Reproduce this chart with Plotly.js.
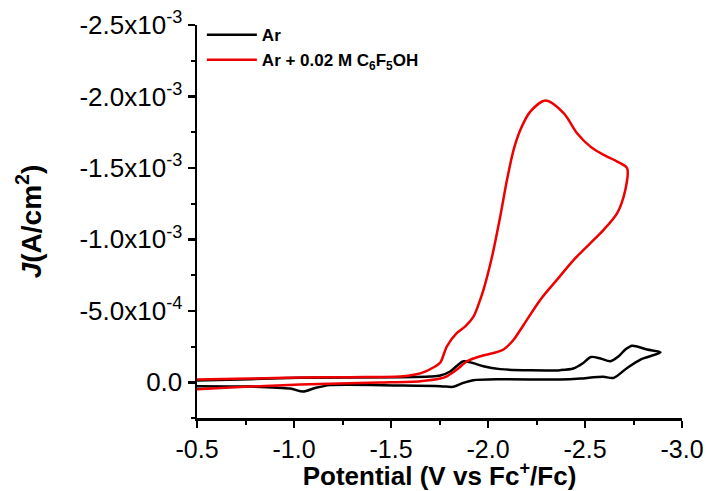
<!DOCTYPE html>
<html>
<head>
<meta charset="utf-8">
<script src="https://cdn.plot.ly/plotly-3.0.1.min.js"></script>
<style>html,body{margin:0;padding:0;background:#fff;}#chart{width:709px;height:491px;}</style>
</head>
<body>
<div id="chart"></div>
<script>
// Current density values are in units of 1e-3 A/cm^2 (negative = cathodic)
const UNIT = 1e-3;

// Ar (black) cyclic voltammogram: forward (cathodic) sweep then return sweep
const arPotential = [
  -0.5, -0.773, -1.031, -1.547, -1.702, -1.754, -1.805, -1.842, -1.873, -1.924, -1.976,
  -2.063, -2.218, -2.373, -2.440, -2.487, -2.531, -2.580, -2.631, -2.672, -2.708, -2.743,
  -2.820, -2.889,
  -2.786, -2.717, -2.648, -2.595, -2.543, -2.476, -2.373, -2.063, -1.924, -1.873, -1.821,
  -1.754, -1.547, -1.186, -1.109, -1.047, -0.980, -0.773, -0.5
];
const arCurrent = [
  -0.012, -0.022, -0.031, -0.035, -0.040, -0.047, -0.075, -0.117, -0.147, -0.134, -0.112,
  -0.092, -0.084, -0.085, -0.096, -0.131, -0.177, -0.166, -0.147, -0.180, -0.229, -0.256,
  -0.229, -0.210,
  -0.159, -0.100, -0.031, -0.038, -0.035, -0.026, -0.019, -0.021, -0.014, 0.004, 0.032,
  0.027, 0.023, 0.020, 0.040, 0.065, 0.044, 0.030, 0.027
];

// Ar + 0.02 M C6F5OH (red)
const acidPotential = [
  -0.5, -0.773, -1.031, -1.289, -1.547, -1.625, -1.676, -1.718, -1.754, -1.788, -1.840,
  -1.883, -1.926, -1.960, -1.977, -2.021, -2.063, -2.098, -2.132, -2.167, -2.218, -2.296,
  -2.390, -2.459, -2.528, -2.596, -2.666, -2.717,
  -2.708, -2.666, -2.596, -2.528, -2.442, -2.356, -2.270, -2.184, -2.132, -2.080, -2.029,
  -1.960, -1.892, -1.840, -1.788, -1.754, -1.651, -1.444, -1.031, -0.773, -0.5
];
const acidCurrent = [
  -0.019, -0.026, -0.033, -0.036, -0.040, -0.054, -0.075, -0.103, -0.138, -0.252, -0.345,
  -0.391, -0.461, -0.578, -0.648, -0.880, -1.160, -1.417, -1.626, -1.767, -1.894, -1.971,
  -1.883, -1.743, -1.649, -1.591, -1.544, -1.498,
  -1.347, -1.184, -1.067, -0.974, -0.857, -0.718, -0.578, -0.403, -0.298, -0.229, -0.205,
  -0.182, -0.147, -0.089, -0.042, -0.026, -0.008, 0.002, 0.016, 0.030, 0.048
];

const seriesNames = ["Ar", "Ar + 0.02 M C<sub>6</sub>F<sub>5</sub>OH"];

const xTickVals = [-0.5, -1.0, -1.5, -2.0, -2.5, -3.0];
const xTickText = ["-0.5", "-1.0", "-1.5", "-2.0", "-2.5", "-3.0"];
const xMinorVals = [-0.75, -1.25, -1.75, -2.25, -2.75];

const yTickVals = [0, -0.5e-3, -1.0e-3, -1.5e-3, -2.0e-3, -2.5e-3];
const yTickText = ["0.0", "-5.0x10<sup>-4</sup>", "-1.0x10<sup>-3</sup>", "-1.5x10<sup>-3</sup>",
                   "-2.0x10<sup>-3</sup>", "-2.5x10<sup>-3</sup>"];
const yMinorVals = [0.25e-3, -0.25e-3, -0.75e-3, -1.25e-3, -1.75e-3, -2.25e-3];

const FONT = "Liberation Sans, Arial, sans-serif";

const traces = [
  {
    x: arPotential, y: arCurrent.map(v => v * UNIT), name: seriesNames[0],
    type: "scatter", mode: "lines",
    line: {color: "#000000", width: 2.5, shape: "spline", smoothing: 0.8}
  },
  {
    x: acidPotential, y: acidCurrent.map(v => v * UNIT), name: seriesNames[1],
    type: "scatter", mode: "lines",
    line: {color: "#ee0000", width: 2.5, shape: "spline", smoothing: 0.8}
  }
];

const layout = {
  width: 709, height: 491,
  margin: {l: 197, r: 27, t: 25, b: 73},
  paper_bgcolor: "#ffffff", plot_bgcolor: "#ffffff",
  font: {family: FONT, color: "#000000"},
  showlegend: true,
  legend: {
    x: 0.01, y: 1.02, xanchor: "left", yanchor: "top",
    bgcolor: "rgba(0,0,0,0)", borderwidth: 0,
    font: {family: FONT, size: 17, weight: "bold", color: "#000"},
    itemwidth: 50,
    tracegroupgap: 0
  },
  xaxis: {
    range: [-0.5, -3.0], autorange: false,
    showgrid: false, zeroline: false,
    showline: true, linecolor: "#000", linewidth: 2.5,
    ticks: "outside", ticklen: 7, tickwidth: 2.5, tickcolor: "#000",
    tickmode: "array", tickvals: xTickVals, ticktext: xTickText,
    tickfont: {family: FONT, size: 25, color: "#000"},
    minor: {tickmode: "array", tickvals: xMinorVals, ticks: "outside", ticklen: 4, tickwidth: 2, tickcolor: "#000", showgrid: false},
    title: {text: "Potential (V vs Fc<sup>+</sup>/Fc)", font: {family: FONT, size: 26, weight: "bold", color: "#000"}, standoff: 14}
  },
  yaxis: {
    range: [0.25e-3, -2.5e-3], autorange: false,
    showgrid: false, zeroline: false,
    showline: true, linecolor: "#000", linewidth: 2.5,
    ticks: "outside", ticklen: 7, tickwidth: 2.5, tickcolor: "#000",
    tickmode: "array", tickvals: yTickVals, ticktext: yTickText,
    tickfont: {family: FONT, size: 26, color: "#000"},
    minor: {tickmode: "array", tickvals: yMinorVals, ticks: "outside", ticklen: 4, tickwidth: 2, tickcolor: "#000", showgrid: false},
    title: {text: "<i>J</i>(A/cm<sup>2</sup>)", font: {family: FONT, size: 28, weight: "bold", color: "#000"}, standoff: 30}
  }
};

Plotly.newPlot("chart", traces, layout, {staticPlot: true, displayModeBar: false});
</script>
</body>
</html>
